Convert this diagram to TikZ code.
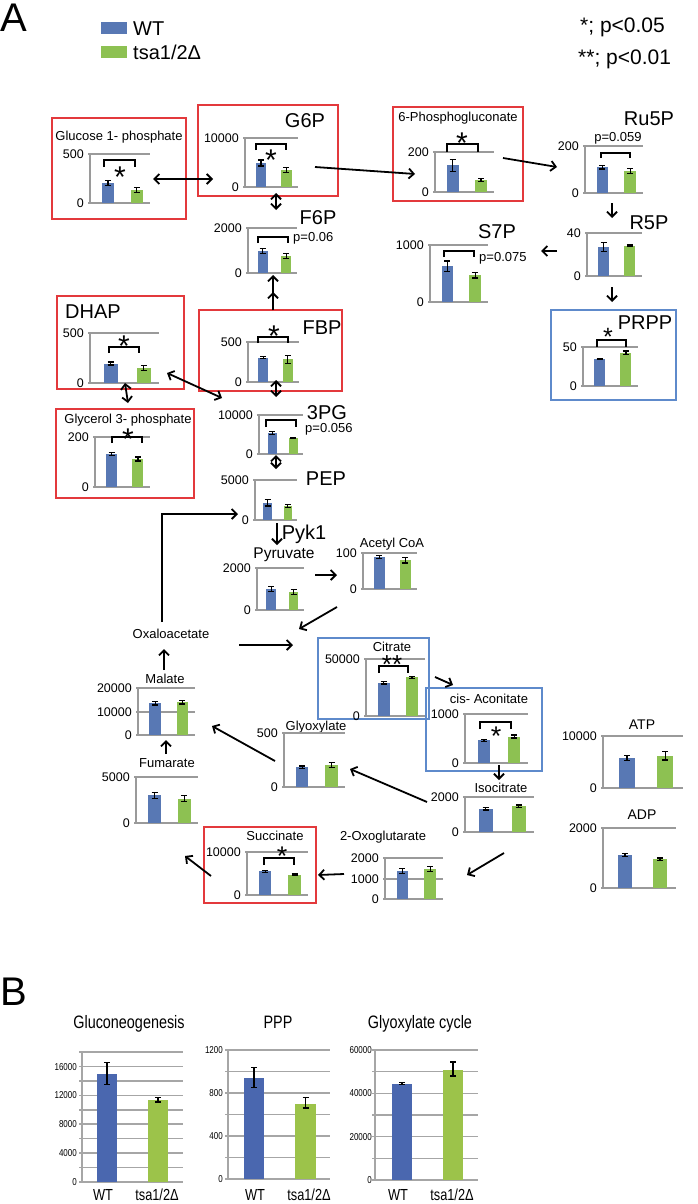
\documentclass[tikz,border=0pt]{standalone}
\usepackage{fontspec}
\setmainfont{Liberation Sans}
\newfontfamily\narrowfont{Liberation Sans}[FakeStretch=0.8]
\usetikzlibrary{arrows.meta}
\definecolor{wtc}{HTML}{5878B4}
\definecolor{koc}{HTML}{8DC152}
\definecolor{wtB}{HTML}{4A67AF}
\definecolor{koB}{HTML}{9CC34A}
\definecolor{redbox}{HTML}{E3393C}
\definecolor{bluebox}{HTML}{5E8ACB}
\definecolor{axisgray}{HTML}{9A9A9A}
\definecolor{gridgray}{HTML}{A6A6A6}
% chart frame: name, L, T, B, R, top label
\newcommand\chartframe[6]{%
 \def\cL{#2}\def\cT{#3}\def\cB{#4}\def\cR{#5}%
 \pgfmathsetmacro\cW{#5-#2}\pgfmathsetmacro\cH{#4-#3}%
 \draw[axisline] (#2-2,#3) -- (#5,#3);
 \draw[axisline] (#2,#3) -- (#2,#4);
 \draw[axisline] (#2-2,#4) -- (#5,#4);
 \node[tick] (#1-top) at (#2-5,#3) {#6};
 \node[tick] (#1-zero) at (#2-5,#4) {0};
}
\newcommand\midline[3]{%
 \draw[axisline] (\cL-2,#1) -- (\cR,#1);
 \node[tick] (#3) at (\cL-5,#1) {#2};}
% bars: blue frac, blue err, green frac, green err
\newcommand\chartbars[4]{%
 \pgfmathsetmacro\bA{\cL+0.2*\cW}\pgfmathsetmacro\bB{\cL+0.4*\cW}\pgfmathsetmacro\bC{\cL+0.3*\cW}%
 \pgfmathsetmacro\bT{\cB-#1*\cH}\pgfmathsetmacro\eU{\bT-#2*\cH}\pgfmathsetmacro\eD{\bT+#2*\cH}%
 \fill[wtc] (\bA,\cB) rectangle (\bB,\bT);
 \draw[ebar] (\bC,\eU) -- (\bC,\eD) (\bC-3,\eU) -- (\bC+3,\eU) (\bC-3,\eD) -- (\bC+3,\eD);
 \pgfmathsetmacro\bA{\cL+0.68*\cW}\pgfmathsetmacro\bB{\cL+0.88*\cW}\pgfmathsetmacro\bC{\cL+0.78*\cW}%
 \pgfmathsetmacro\bT{\cB-#3*\cH}\pgfmathsetmacro\eU{\bT-#4*\cH}\pgfmathsetmacro\eD{\bT+#4*\cH}%
 \fill[koc] (\bA,\cB) rectangle (\bB,\bT);
 \draw[ebar] (\bC,\eU) -- (\bC,\eD) (\bC-3,\eU) -- (\bC+3,\eU) (\bC-3,\eD) -- (\bC+3,\eD);
}
\newcommand\sigbrack[4]{\draw[brk] (#1,#4) -- (#1,#3) -- (#2,#3) -- (#2,#4);}
\newcommand\sig[5]{\node[inner sep=0pt,anchor=base,font=\fontsize{#3}{#3}\selectfont] (#4) at (#1,{#2+0.585*#3}) {#5};}
\newcommand\conn[4]{\coordinate (#1-s) at (#2); \coordinate (#1-e) at (#3); \draw[#4] (#1-s) -- (#1-e);}
\begin{document}
\begin{tikzpicture}[x=1pt,y=-1pt,
 axisline/.style={draw=axisgray,line width=1.6pt},
 tick/.style={anchor=east,inner sep=1pt,font=\fontsize{12.5}{14}\selectfont,text height=9pt,text depth=0pt},
 lab/.style={inner sep=0pt,font=\fontsize{13}{15}\selectfont,text height=9.3pt,text depth=0pt},
 biglab/.style={inner sep=0pt,font=\fontsize{20}{22}\selectfont,text height=14.3pt,text depth=0pt},
 pval/.style={inner sep=0pt,font=\fontsize{13}{15}\selectfont,text height=9.3pt,text depth=0pt},
 arr/.style={-{Straight Barb[length=5pt,width=10pt]},line width=1.8pt},
 darr/.style={{Straight Barb[length=5pt,width=10pt]}-{Straight Barb[length=5pt,width=10pt]},line width=1.8pt},
 rbox/.style={draw=redbox,line width=1.5pt},
 bbox/.style={draw=bluebox,line width=1.5pt},
 ebar/.style={line width=1.2pt},
 brk/.style={line width=1.6pt},
 gridB/.style={draw=gridgray,line width=1.5pt},
 tickB/.style={anchor=east,inner sep=1pt,font=\narrowfont\fontsize{10}{12}\selectfont,text height=7.2pt,text depth=0pt},
 titleB/.style={inner sep=0pt,font=\narrowfont\fontsize{18}{20}\selectfont,text height=12.9pt,text depth=0pt},
 xlabB/.style={inner sep=0pt,font=\narrowfont\fontsize{16}{18}\selectfont,text height=11.5pt,text depth=0pt}]
\fill[white] (0,0) rectangle (697,1204);
\useasboundingbox (0,0) rectangle (697,1204);

% panel letters and legend
\node[inner sep=0pt,font=\fontsize{40}{44}\selectfont,text height=28.6pt,text depth=0pt] (lettA) at (14,17) {A};
\node[inner sep=0pt,font=\fontsize{40}{44}\selectfont,text height=28.6pt,text depth=0pt,anchor=west] (lettB) at (0,991) {B};
\fill[wtc] (101,22) rectangle (127,34);
\fill[koc] (101,46) rectangle (127,58);
\node[anchor=west,inner sep=0pt,font=\fontsize{20}{22}\selectfont,text height=14.3pt,text depth=0pt] (legWT) at (133,28) {WT};
\node[anchor=west,inner sep=0pt,font=\fontsize{20}{22}\selectfont,text height=14.3pt,text depth=0pt] (legKO) at (133,52) {tsa1/2Δ};
\node[anchor=base west,inner sep=0pt,font=\fontsize{21}{23}\selectfont] (legp1) at (580,33) {*; p<0.05};
\node[anchor=base west,inner sep=0pt,font=\fontsize{21}{23}\selectfont] (legp2) at (578,65) {**; p<0.01};

% boxes
\draw[rbox] (52,118) rectangle (186,219);
\draw[rbox] (198,105) rectangle (338,196);
\draw[rbox] (393,107) rectangle (523,201);
\draw[rbox] (57,296) rectangle (184,389);
\draw[rbox] (199,310) rectangle (342,391);
\draw[rbox] (56,409) rectangle (194,498);
\draw[rbox] (204,827) rectangle (316,903);
\draw[bbox] (551,310) rectangle (676,400);
\draw[bbox] (318,638) rectangle (429,719);
\draw[bbox] (426,688) rectangle (542,771);

% ---------- charts ----------
\node[lab] (g1p) at (119,136) {Glucose 1- phosphate};
\chartframe{g1pc}{90}{154}{203}{150}{500}\chartbars{0.41}{0.05}{0.27}{0.05}
\sigbrack{104}{135}{160}{167}\sig{120}{170}{30}{g1ps}{*}

\node[biglab] (g6p) at (305,120) {G6P};
\chartframe{g6pc}{245}{138}{187}{298}{10000}\chartbars{0.49}{0.06}{0.35}{0.05}
\sigbrack{256}{286}{144}{150}\sig{271}{153}{30}{g6ps}{*}

\node[lab] (pg6) at (458,117) {6-Phosphogluconate};
\chartframe{pg6c}{435}{152}{192}{494}{200}\chartbars{0.67}{0.15}{0.30}{0.04}
\sigbrack{447}{478}{144}{152}\sig{462}{136}{30}{pg6s}{*}

\node[biglab] (ru5p) at (649,118) {Ru5P};
\chartframe{ru5pc}{585}{146}{193}{643}{200}\chartbars{0.55}{0.04}{0.47}{0.05}
\sigbrack{601}{630}{153}{158}\node[pval] (ru5pp) at (618,137) {p=0.059};

\node[biglab] (f6p) at (318,217) {F6P};
\chartframe{f6pc}{248}{228}{273}{297}{2000}\chartbars{0.49}{0.06}{0.38}{0.05}
\sigbrack{258}{288}{237}{243}\node[pval,anchor=west] (f6pp) at (293,237) {p=0.06};

\node[biglab] (r5p) at (649,222) {R5P};
\chartframe{r5pc}{587}{233}{276}{642}{40}\chartbars{0.67}{0.10}{0.70}{0.02}

\node[biglab] (s7p) at (497,231) {S7P};
\chartframe{s7pc}{430}{245}{302}{488}{1000}\chartbars{0.63}{0.09}{0.47}{0.05}
\sigbrack{444}{474}{251}{257}\node[pval,anchor=west] (s7pp) at (479,257) {p=0.075};

\node[biglab] (prpp) at (645,322) {PRPP};
\chartframe{prppc}{583}{347}{386}{638}{50}\chartbars{0.69}{0.02}{0.85}{0.05}
\sigbrack{597}{626}{340}{347}\sig{608}{331}{25}{prpps}{*}

\node[biglab] (dhap) at (93,311) {DHAP};
\chartframe{dhapc}{90}{333}{383}{159}{500}\chartbars{0.39}{0.03}{0.30}{0.05}
\sigbrack{109}{139}{347}{353}\sig{124}{339}{30}{dhaps}{*}

\node[biglab] (fbp) at (322,327) {FBP};
\chartframe{fbpc}{248}{342}{382}{299}{500}\chartbars{0.61}{0.02}{0.57}{0.10}
\sigbrack{258}{288}{337}{343}\sig{274}{329}{30}{fbps}{*}

\node[lab] (g3p) at (128,419) {Glycerol 3- phosphate};
\chartframe{g3pc}{95}{437}{487}{150}{200}\chartbars{0.66}{0.03}{0.56}{0.04}
\sigbrack{112}{142}{437}{443}\sig{128}{432}{30}{g3ps}{*}

\node[biglab] (pg3) at (327,412) {3PG};
\chartframe{pg3c}{259}{415}{454}{303}{10000}\chartbars{0.54}{0.04}{0.41}{0.02}
\sigbrack{266}{296}{420}{427}\node[pval,anchor=west] (pg3p) at (305,428) {p=0.056};

\node[biglab] (pep) at (326,478) {PEP};
\chartframe{pepc}{255}{480}{520}{297}{5000}\chartbars{0.43}{0.08}{0.35}{0.03}

\node[biglab] (pyk) at (304,532) {Pyk1};
\node[inner sep=0pt,font=\fontsize{15.5}{17}\selectfont,text height=11pt,text depth=0pt] (pyr) at (284,553) {Pyruvate};
\chartframe{pyrc}{257}{568}{610}{304}{2000}\chartbars{0.50}{0.06}{0.43}{0.06}

\node[lab] (acoa) at (392,543) {Acetyl CoA};
\chartframe{acoac}{363}{553}{589}{417}{100}\chartbars{0.89}{0.05}{0.80}{0.08}

\node[lab] (oaa) at (171,634) {Oxaloacetate};

\node[lab] (cit) at (392,647) {Citrate};
\chartframe{citc}{366}{659}{716}{425}{50000}\chartbars{0.58}{0.02}{0.68}{0.02}
\sigbrack{379}{408}{666}{673}\sig{392}{658}{26}{cits}{**}

\node[lab] (cis) at (489,699) {cis- Aconitate};
\chartframe{cisc}{465}{714}{763}{528}{1000}\chartbars{0.46}{0.02}{0.54}{0.03}
\sigbrack{480}{511}{722}{729}\sig{496}{730}{27}{ciss}{*}

\node[lab] (iso) at (501,788) {Isocitrate};
\chartframe{isoc}{465}{797}{832}{534}{2000}\chartbars{0.67}{0.04}{0.74}{0.03}

\node[inner sep=0pt,font=\fontsize{14}{16}\selectfont,text height=10pt,text depth=0pt] (atp) at (642,724) {ATP};
\chartframe{atpc}{603}{736}{788}{683}{10000}\chartbars{0.58}{0.05}{0.62}{0.08}

\node[inner sep=0pt,font=\fontsize{14}{16}\selectfont,text height=10pt,text depth=0pt] (adp) at (642,814) {ADP};
\chartframe{adpc}{603}{828}{888}{676}{2000}\chartbars{0.55}{0.03}{0.48}{0.02}

\node[lab] (glx) at (316,726) {Glyoxylate};
\chartframe{glxc}{284}{733}{787}{345}{500}\chartbars{0.37}{0.02}{0.41}{0.05}

\node[lab] (mal) at (165,679) {Malate};
\chartframe{malc}{138}{688}{735}{195}{20000}\midline{712}{10000}{malc-mid}\chartbars{0.68}{0.04}{0.70}{0.04}

\node[lab] (fum) at (167,763) {Fumarate};
\chartframe{fumc}{136}{777}{823}{198}{5000}\chartbars{0.60}{0.07}{0.53}{0.06}

\node[lab] (suc) at (275,836) {Succinate};
\chartframe{succ}{247}{852}{895}{308}{10000}\chartbars{0.55}{0.02}{0.47}{0.02}
\sigbrack{264}{294}{858}{865}\sig{282}{850}{27}{sucs}{*}

\node[lab] (oxo) at (383,836) {2-Oxoglutarate};
\chartframe{oxoc}{385}{858}{899}{443}{2000}\midline{879}{1000}{oxoc-mid}\chartbars{0.69}{0.06}{0.73}{0.06}

% ---------- connectors ----------
\conn{a1}{153,179}{213,179}{darr}
\conn{a2}{276,193}{276,210}{darr}
\conn{a3}{315,167}{415,174}{arr}
\conn{a4}{503,158}{557,167}{arr}
\conn{a5}{612,203}{612,218}{arr}
\conn{a6}{557,251}{541,251}{arr}
\conn{a7}{612,287}{612,302}{arr}
\conn{a8}{273,310}{273,275}{arr}
\conn{a8b}{273,310}{273,292}{arr}
\conn{a9}{167,373}{222,398}{darr}
\conn{a10}{125,383}{128,403}{darr}
\conn{a11}{276,380}{276,397}{darr}
\conn{a12}{276,455}{276,469}{darr}
\coordinate (a13-s) at (162,622); \coordinate (a13-e) at (238,514);
\draw[arr] (a13-s) |- (a13-e);
\conn{a14}{277,523}{277,545}{arr}
\conn{a15}{315,575}{337,575}{arr}
\conn{a16}{337,607}{299,629}{arr}
\conn{a17}{239,645}{293,645}{arr}
\conn{a18}{164,670}{164,649}{arr}
\conn{a19}{435,677}{453,685}{arr}
\conn{a20}{499,765}{499,780}{arr}
\conn{a21}{427,802}{350,769}{arr}
\conn{a22}{504,853}{467,875}{arr}
\conn{a23}{275,761}{212,726}{arr}
\conn{a24}{166,754}{166,740}{arr}
\conn{a25}{344,874}{318,875}{arr}
\conn{a26}{211,876}{185,856}{arr}

% ---------- panel B ----------
\node[titleB] (tB1) at (129,1022) {Gluconeogenesis};
\node[titleB] (tB2) at (278,1022) {PPP};
\node[titleB] (tB3) at (420,1022) {Glyoxylate cycle};
% B1
\foreach \k in {0,...,9} \draw[gridB] (79,{1052+14.444*\k}) -- (183,{1052+14.444*\k});
\draw[gridB] (82,1052) -- (82,1182);
\node[tickB] (b1a) at (78,1066.4) {16000};
\node[tickB] (b1b) at (78,1095.3) {12000};
\node[tickB] (b1c) at (78,1124.2) {8000};
\node[tickB] (b1d) at (78,1153.1) {4000};
\node[tickB] (b1e) at (78,1182) {0};
\fill[wtB] (97,1182) rectangle (117,1073.7);
\fill[koB] (148,1182) rectangle (168,1099.7);
\draw[ebar] (107,1062.8) -- (107,1084.5) (104,1062.8) -- (110,1062.8) (104,1084.5) -- (110,1084.5);
\draw[ebar] (158,1097.5) -- (158,1101.9) (155,1097.5) -- (161,1097.5) (155,1101.9) -- (161,1101.9);
\node[xlabB] (b1wt) at (103,1195) {WT};
\node[xlabB] (b1ko) at (157,1195) {tsa1/2Δ};
% B2
\foreach \k in {0,...,6} \draw[gridB] (225,{1050+21.5*\k}) -- (330,{1050+21.5*\k});
\draw[gridB] (228,1050) -- (228,1179);
\node[tickB] (b2a) at (224,1050) {1200};
\node[tickB] (b2b) at (224,1093) {800};
\node[tickB] (b2c) at (224,1136) {400};
\node[tickB] (b2d) at (224,1179) {0};
\fill[wtB] (244,1179) rectangle (264,1078);
\fill[koB] (295,1179) rectangle (316,1103.75);
\draw[ebar] (254,1067.25) -- (254,1087.7) (251,1067.25) -- (257,1067.25) (251,1087.7) -- (257,1087.7);
\draw[ebar] (305.5,1097.3) -- (305.5,1108) (302.5,1097.3) -- (308.5,1097.3) (302.5,1108) -- (308.5,1108);
\node[xlabB] (b2wt) at (255,1195) {WT};
\node[xlabB] (b2ko) at (309,1195) {tsa1/2Δ};
% B3
\foreach \k in {0,...,6} \draw[gridB] (372,{1050+21.667*\k}) -- (478,{1050+21.667*\k});
\draw[gridB] (375,1050) -- (375,1180);
\node[tickB] (b3a) at (373,1050) {60000};
\node[tickB] (b3b) at (373,1093.3) {40000};
\node[tickB] (b3c) at (373,1136.7) {20000};
\node[tickB] (b3d) at (373,1180) {0};
\fill[wtB] (392,1180) rectangle (412,1083.6);
\fill[koB] (443,1180) rectangle (463,1069.5);
\draw[ebar] (402,1082.7) -- (402,1084.5) (399,1082.7) -- (405,1082.7) (399,1084.5) -- (405,1084.5);
\draw[ebar] (453,1061.9) -- (453,1076) (450,1061.9) -- (456,1061.9) (450,1076) -- (456,1076);
\node[xlabB] (b3wt) at (398,1195) {WT};
\node[xlabB] (b3ko) at (452,1195) {tsa1/2Δ};
\end{tikzpicture}
\end{document}
